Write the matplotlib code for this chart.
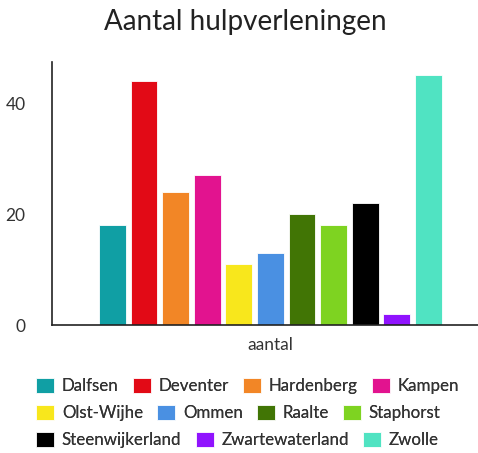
import matplotlib.pyplot as plt
from matplotlib.patches import Patch

plt.rcParams['font.family'] = ['Lato', 'DejaVu Sans']

gemeenten = ['Dalfsen', 'Deventer', 'Hardenberg', 'Kampen', 'Olst-Wijhe', 'Ommen',
             'Raalte', 'Staphorst', 'Steenwijkerland', 'Zwartewaterland', 'Zwolle']
aantal = [18, 44, 24, 27, 11, 13, 20, 18, 22, 2, 45]
kleuren = ['#109fa4', '#e20a16', '#f28626', '#e2138f', '#f8e71c', '#4a90e2',
           '#417505', '#7ed321', '#000000', '#9013fe', '#50e3c2']
categorie = ['aantal']

tekst = '#333333'

fig = plt.figure(figsize=(4.78, 4.53), dpi=100)
ax = fig.add_axes([52/478, 1 - 325/453, 1 - 52/478, (325 - 62)/453])

n = len(gemeenten)
for i, (g, v, c) in enumerate(zip(gemeenten, aantal, kleuren)):
    ax.bar(i - (n - 1) / 2, v, width=0.85, color=c, label=g,
           edgecolor='white', linewidth=0.6)

ax.set_xlim(-6.91, 6.57)
ax.set_ylim(0, 47.4)
ax.set_yticks([0, 20, 40])
ax.set_xticks([0])
ax.set_xticklabels(categorie)
ax.tick_params(axis='both', length=0, labelsize=12.5, colors=tekst)
ax.tick_params(axis='y', pad=19)
ax.tick_params(axis='x', pad=9)
for s in ['top', 'right']:
    ax.spines[s].set_visible(False)
for s in ['left', 'bottom']:
    ax.spines[s].set_color('#222222')
    ax.spines[s].set_linewidth(1.2)

fig.text(245/478, 1 - 22/453, 'Aantal hulpverleningen', ha='center', va='center',
         fontsize=20, color='#222222')

# legenda in rijen zoals in het origineel
rijen = [gemeenten[0:4], gemeenten[4:8], gemeenten[8:11]]
ytop = [386, 413, 440]
for rij, yy in zip(rijen, ytop):
    handles = [Patch(facecolor=kleuren[gemeenten.index(g)], edgecolor='white',
                     linewidth=0.6, label=g) for g in rij]
    leg = fig.legend(handles=handles, loc='center left', ncol=len(rij),
                     bbox_to_anchor=(28/478, 1 - yy/453), frameon=False,
                     fontsize=12.2, handlelength=1.05, handleheight=1.05,
                     handletextpad=0.45, columnspacing=0.85, borderpad=0,
                     labelcolor=tekst)
    fig.add_artist(leg)

fig.savefig('out.png', dpi=100)
